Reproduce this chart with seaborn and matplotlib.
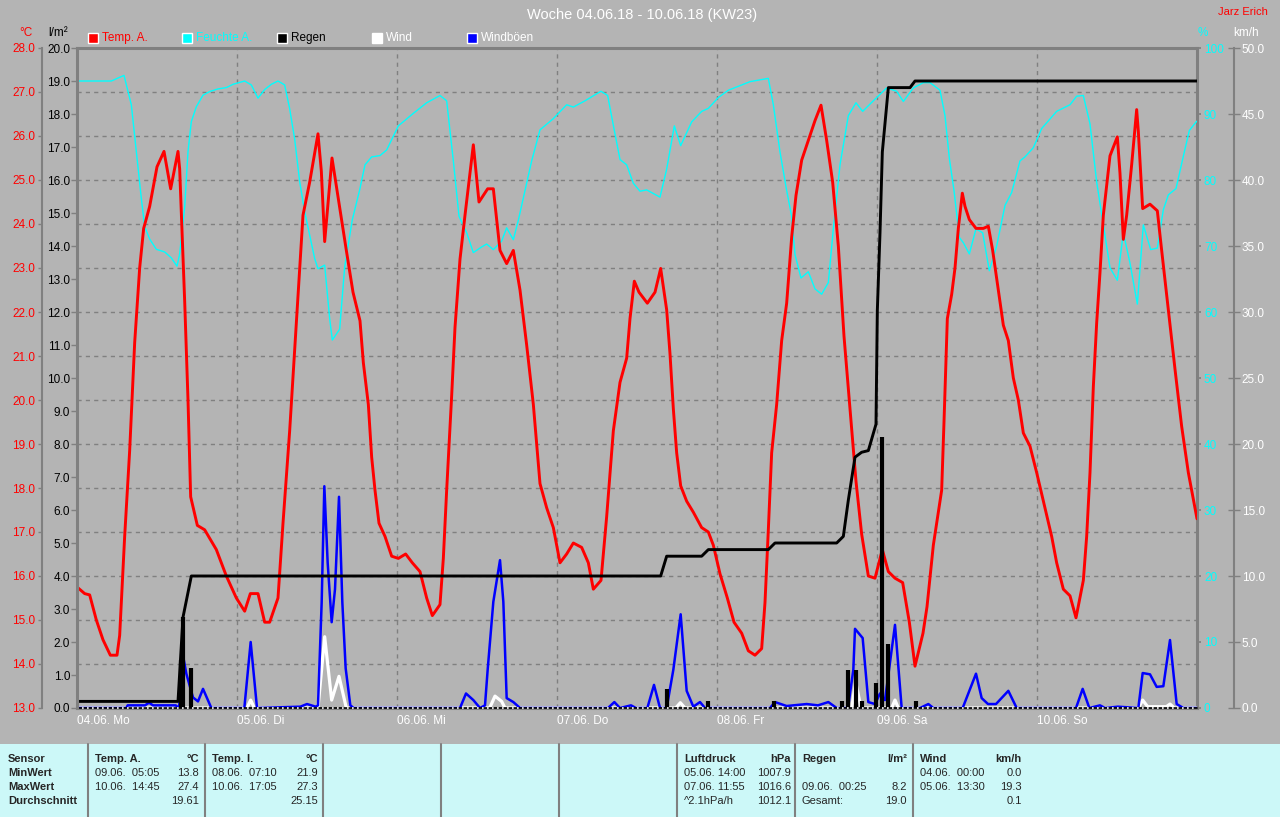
import numpy as np
import pandas as pd
import matplotlib.pyplot as plt
import matplotlib.transforms as mtransforms
from matplotlib.patches import Rectangle
from matplotlib.lines import Line2D
import seaborn as sns

# all x values are hours since 04.06. 00:00
temp_h = [0, 1.15, 1.9, 2.9, 3.9, 5.0, 6.0, 6.4, 7.15, 7.9, 8.65, 9.4, 10.0, 10.9, 12.0, 13.05,
          14.05, 15.15, 15.4, 16.15, 16.65, 17.05, 18.05, 19.15, 20.9, 22.4, 23.9, 25.15, 26.0,
          27.15, 28.15, 28.9, 30.15, 30.9, 31.9, 32.9, 33.9, 34.9, 36.15, 36.65, 37.15, 38.25,
          40.4, 41.4, 42.45, 42.95, 43.7, 44.2, 44.7, 45.3, 46.2, 47.2, 48.2, 49.3, 50.3, 51.45,
          52.45, 53.3, 54.45, 54.95, 55.45, 56.2, 56.7, 57.45, 58.2, 59.45, 60.3, 61.6, 62.45,
          63.45, 64.45, 65.45, 66.45, 67.45, 68.45, 69.45, 70.45, 71.45, 72.45, 73.45, 74.45,
          75.7, 76.7, 77.45, 78.6, 79.45, 80.45, 81.45, 82.45, 82.95, 83.6, 84.3, 85.55, 86.7,
          87.55, 88.45, 88.95, 89.45, 89.95, 90.55, 91.45, 92.45, 93.7, 94.7, 95.45, 96.45,
          97.55, 98.55, 99.7, 100.7, 101.7, 102.7, 103.2, 103.7, 104.2, 104.95, 105.7, 106.45,
          107.2, 107.85, 108.7, 109.7, 110.7, 111.6, 112.45, 113.35, 114.2, 115.05, 115.95,
          116.85, 117.7, 118.7, 119.7, 120.8, 121.7, 122.7, 123.85, 124.85, 125.7, 126.9, 127.5,
          128.45, 129.7, 130.05, 130.55, 131.2, 131.7, 132.2, 132.8, 133.2, 133.85, 134.85,
          135.95, 136.7, 137.35, 138.2, 138.95, 139.7, 140.45, 141.2, 141.95, 142.95, 143.95,
          145.2, 146.2, 146.95, 147.95, 148.95, 149.85, 150.95, 151.45, 151.95, 152.45, 152.95,
          153.45, 153.95, 154.95, 156.05, 156.45, 156.95, 157.45, 158.2, 158.95, 159.2, 159.85,
          160.95, 162.05, 162.7, 163.7, 164.7, 165.7, 166.7, 168.0]
temp_c = [15.75, 15.6, 15.57, 15.0, 14.55, 14.2, 14.2, 14.65, 16.9, 18.85, 21.3, 23.0, 23.9, 24.4,
          25.3, 25.65, 24.8, 25.65, 25.25, 22.25, 20.0, 17.8, 17.15, 17.05, 16.6, 16.0, 15.5,
          15.2, 15.6, 15.6, 14.95, 14.95, 15.5, 17.2, 19.3, 21.75, 24.2, 24.95, 26.05, 25.2,
          23.6, 25.5, 23.4, 22.45, 21.8, 20.85, 19.9, 18.7, 17.95, 17.2, 16.9, 16.45, 16.4, 16.5,
          16.3, 16.1, 15.5, 15.1, 15.35, 16.4, 17.95, 20.1, 21.65, 23.2, 24.2, 25.8, 24.5, 24.8,
          24.8, 23.4, 23.1, 23.4, 22.5, 21.25, 19.9, 18.1, 17.55, 17.1, 16.3, 16.5, 16.75, 16.65,
          16.3, 15.7, 15.9, 17.35, 19.3, 20.4, 20.95, 21.85, 22.7, 22.45, 22.2, 22.45, 22.99,
          22.05, 21.05, 19.8, 18.8, 18.05, 17.7, 17.45, 17.1, 17.0, 16.7, 16.05, 15.5, 14.95,
          14.7, 14.3, 14.2, 14.35, 15.4, 17.05, 18.8, 19.9, 21.35, 22.2, 23.7, 24.65, 25.45,
          25.9, 26.35, 26.7, 25.9, 24.95, 23.5, 21.45, 19.8, 18.15, 16.95, 16.0, 15.95, 16.6,
          16.1, 15.95, 15.85, 14.95, 13.95, 14.7, 15.3, 16.7, 17.95, 19.5, 21.85, 22.4, 23.0,
          23.9, 24.7, 24.4, 24.1, 23.9, 23.9, 23.95, 23.4, 22.5, 21.7, 21.35, 20.5, 20.0, 19.25,
          18.95, 18.35, 17.55, 16.9, 16.3, 15.7, 15.55, 15.05, 15.9, 16.9, 18.35, 20.3, 21.75,
          22.9, 24.2, 25.55, 25.98, 25.15, 23.65, 24.2, 25.35, 26.6, 26.1, 24.35, 24.45, 24.3,
          23.4, 22.05, 20.7, 19.4, 18.35, 17.3]

hum_h = [0, 5.15, 7.05, 8.15, 8.9, 9.65, 10.15, 10.9, 11.9, 13.15, 14.15, 15.0, 15.4, 16.15,
         16.65, 17.15, 17.9, 18.9, 19.9, 21.15, 22.4, 23.4, 25.15, 26.15, 27.15, 28.15, 29.15,
         30.15, 31.15, 31.9, 32.65, 33.4, 34.15, 34.9, 35.65, 36.15, 37.15, 37.9, 38.3, 39.4,
         40.15, 41.3, 42.4, 43.2, 44.2, 45.45, 46.45, 48.2, 50.45, 52.45, 54.45, 55.45, 56.45,
         57.3, 58.45, 59.45, 60.45, 61.45, 62.45, 63.7, 64.45, 65.45, 66.2, 67.2, 68.2, 69.45,
         71.45, 73.45, 74.45, 76.2, 78.6, 79.6, 80.6, 81.45, 82.45, 83.45, 84.45, 85.45, 87.45,
         88.45, 89.6, 90.55, 92.2, 93.7, 94.7, 96.2, 97.7, 99.45, 100.95, 103.7, 104.45, 105.45,
         106.45, 107.2, 107.7, 108.6, 109.7, 110.7, 111.7, 112.7, 113.45, 114.45, 115.7, 116.85,
         117.85, 119.45, 121.45, 122.95, 123.95, 125.45, 126.95, 127.95, 129.45, 130.2, 130.85,
         131.55, 132.35, 132.95, 133.85, 134.85, 135.85, 136.85, 137.95, 139.2, 140.2, 141.45,
         142.2, 143.45, 144.7, 146.95, 148.95, 149.95, 150.95, 151.95, 152.95, 153.95, 154.95,
         156.05, 156.95, 157.95, 159.05, 159.95, 161.05, 162.05, 162.95, 163.7, 164.85, 165.95,
         166.85, 167.95]
hum_pct = [95.0, 95.0, 95.85, 91.4, 84.3, 77.2, 72.95, 71.05, 69.5, 69.1, 68.2, 66.95, 68.8,
           75.9, 84.3, 88.85, 91.1, 92.85, 93.4, 93.8, 94.0, 94.5, 95.0, 94.4, 92.4, 93.7, 94.5,
           95.0, 94.4, 90.8, 86.2, 79.75, 75.2, 71.65, 68.1, 66.55, 67.1, 59.0, 55.75, 57.4,
           66.8, 74.0, 78.5, 82.3, 83.5, 83.7, 84.55, 88.2, 90.1, 91.7, 92.8, 92.0, 82.9, 74.5,
           72.0, 69.0, 69.7, 70.3, 69.45, 70.75, 72.75, 70.95, 73.9, 78.4, 82.9, 87.6, 89.3,
           91.4, 91.05, 92.0, 93.45, 92.8, 87.5, 83.1, 82.3, 79.5, 78.3, 78.5, 77.4, 81.65, 88.2,
           85.2, 88.8, 90.4, 90.85, 92.5, 93.6, 94.3, 94.9, 95.4, 91.4, 84.25, 78.4, 74.5, 68.7,
           65.15, 66.1, 63.5, 62.7, 64.45, 72.6, 82.3, 89.75, 91.7, 90.4, 92.0, 93.95, 93.45,
           91.9, 93.95, 94.75, 94.75, 93.6, 89.75, 83.3, 78.4, 71.3, 70.5, 68.8, 72.6, 72.0,
           66.25, 70.0, 76.15, 78.1, 82.9, 83.5, 84.9, 87.8, 90.4, 91.4, 92.7, 92.8, 88.5, 79.7,
           73.2, 66.7, 64.8, 72.0, 67.4, 61.2, 73.2, 69.45, 69.7, 75.5, 77.75, 78.7, 83.6, 87.5,
           88.9]

rain_sum_h = [0, 15.15, 15.9, 17.15, 87.55, 88.45, 93.7, 94.7, 103.7, 104.7, 113.95, 114.95,
              115.7, 116.7, 117.7, 118.7, 119.85, 120.05, 120.45, 120.8, 121.7, 124.95, 125.7, 168.0]
rain_sum = [0.2, 0.2, 2.75, 4.0, 4.0, 4.6, 4.6, 4.8, 4.8, 5.0, 5.0, 5.2,
            6.3, 7.6, 7.75, 7.8, 8.6, 12.05, 14.4, 16.85, 18.8, 18.8, 19.0, 19.0]

rain_bar_h = [15.55, 15.9, 17.15, 88.55, 94.6, 104.6, 114.8, 115.7, 116.8, 117.8, 119.8,
              120.8, 121.7, 125.8]
rain_bar = [1.45, 2.75, 1.2, 0.58, 0.2, 0.2, 0.2, 1.15, 1.15, 0.2, 0.75, 8.2, 1.95, 0.2]

gust_h = [0, 7.4, 7.6, 10.2, 10.8, 11.4, 14.8, 15.3, 16.0, 16.4, 17.4, 18.15, 18.9, 20.15,
          25.1, 26.05, 27.0, 33.5, 34.5, 35.8, 36.15, 36.7, 37.1, 37.6, 38.2, 38.7, 39.3, 39.8,
          40.3, 41.0, 41.5, 57.45, 58.35, 59.45, 60.45, 61.2, 61.6, 62.45, 63.45, 63.95, 64.45,
          65.45, 66.45, 79.65, 80.6, 81.45, 83.1, 83.85, 85.55, 86.55, 87.45, 88.45, 89.45,
          90.55, 91.45, 92.45, 93.45, 94.2, 103.95, 104.7, 106.45, 109.45, 111.15, 112.7, 113.95,
          115.65, 116.45, 116.7, 117.85, 118.7, 119.7, 120.45, 121.2, 122.7, 123.7, 126.45, 127.7,
          128.45, 132.85, 134.85, 135.7, 136.65, 137.85, 139.7, 140.95, 149.85, 150.85, 151.85,
          153.45, 154.2, 156.15, 159.2, 159.85, 160.95, 161.95, 162.95, 163.95, 164.95, 165.95,
          168.0]
gust = [0, 0, 0.2, 0.2, 0.4, 0.2, 0.2, 0, 3.7, 2.6, 0.8, 0.5, 1.45, 0,
        0, 5.0, 0, 0.1, 0.3, 0.1, 0.2, 8.0, 16.8, 11.0, 6.5, 9.0, 16.0, 8.0,
        3.0, 0.2, 0, 0, 1.1, 0.6, 0, 0.2, 2.9, 8.05, 11.2, 8.05, 0.75,
        0.45, 0, 0, 0.45, 0, 0.2, 0, 0, 1.75, 0, 0, 2.9,
        7.1, 1.3, 0.1, 0.45, 0, 0, 0.45, 0.15, 0.3, 0.2, 0.45, 0,
        0, 2.9, 6.0, 5.3, 0.45, 0.3, 1.1, 0.6, 6.3, 0, 0, 0.3,
        0, 0, 2.6, 0.75, 0.3, 0.3, 1.3, 0, 0, 1.45, 0,
        0.2, 0, 0.1, 0, 2.65, 2.55, 1.6, 1.65, 5.15, 0.3, 0,
        0]

wind_h = [0, 25.5, 26.05, 26.6, 36.15, 37.15, 38.2, 39.3, 40.4, 61.9, 62.7, 63.7, 64.2,
          89.8, 90.5, 91.2, 116.2, 116.8, 117.6, 122.2, 122.7, 123.2, 159.2, 159.85, 160.6,
          163.4, 163.95, 164.6, 168.0]
wind = [0, 0, 0.6, 0, 0, 5.4, 0.6, 2.4, 0, 0, 0.9, 0.5, 0,
        0, 0.4, 0, 0, 2.0, 0, 0, 0.6, 0, 0, 0.6, 0.1,
        0.1, 0.3, 0, 0]

day_ticks = [0, 24, 48, 72, 96, 120, 144]
day_labels = ["04.06. Mo", "05.06. Di", "06.06. Mi", "07.06. Do", "08.06. Fr", "09.06. Sa", "10.06. So"]

BG = "#b4b4b4"
GRID = "#808080"
TABLE = "#ccf8f8"
W, H = 1280, 817
PX = 0.72  # points per pixel at 100 dpi

sns.set_theme(style="white", rc={"axes.facecolor": BG, "figure.facecolor": BG})
plt.rcParams['font.family'] = ['Liberation Sans', 'DejaVu Sans']

fig = plt.figure(figsize=(12.8, 8.17), dpi=100, facecolor=BG)
rect = [77 / W, 1 - 708 / H, 1120 / W, 660 / H]

# base axes: temperature scale, grid and frame
ax = fig.add_axes(rect)
ax.set_facecolor(BG)
ax.set_xlim(0, 168)
ax.set_ylim(13, 28)
ax.set_yticks(np.arange(13, 29, 1))
ax.set_yticklabels([f"{v:.1f}" for v in np.arange(13, 29, 1)])
ax.set_xticks(day_ticks)
ax.set_xticklabels(day_labels, ha="left")
offset = mtransforms.ScaledTranslation(-15 / 100, 0, fig.dpi_scale_trans)
for lab in ax.get_xticklabels():
    lab.set_transform(lab.get_transform() + offset)
ax.set_axisbelow(True)
ax.grid(True, color=GRID, ls=(0, (3, 3)), lw=1)
ax.tick_params(axis="x", length=0, pad=5, labelcolor="white", labelsize=8.5)
ax.tick_params(axis="y", direction="out", length=3, width=1, color=GRID, pad=2,
               labelcolor="red", labelsize=8.5)
for s in ["top", "bottom", "right"]:
    ax.spines[s].set_color(GRID)
    ax.spines[s].set_linewidth(2.2)
ax.spines["left"].set_position(("outward", 35 * PX))
ax.spines["left"].set_color(GRID)
ax.spines["left"].set_linewidth(1.5)

# humidity
ax_h = ax.twinx()
ax_h.set_ylim(0, 100)
ax_h.set_yticks(np.arange(0, 101, 10))
ax_h.tick_params(axis="y", direction="out", length=3, color=GRID, pad=2,
                 labelcolor="#00ffff", labelsize=8.5)
for s in ax_h.spines.values():
    s.set_visible(False)
sns.lineplot(x=hum_h, y=hum_pct, ax=ax_h, color="#00ffff", lw=1, estimator=None, sort=False)

# temperature line (same scale as base axes)
ax_t = ax.twinx()
ax_t.set_ylim(13, 28)
ax_t.yaxis.set_visible(False)
for s in ax_t.spines.values():
    s.set_visible(False)
sns.lineplot(x=temp_h, y=temp_c, ax=ax_t, color="#ff0000", lw=2.1, estimator=None, sort=False)

# wind and gusts
ax_w = ax.twinx()
ax_w.set_ylim(0, 50)
ax_w.set_yticks(np.arange(0, 51, 5))
ax_w.set_yticklabels([f"{v:.1f}" for v in np.arange(0, 51, 5)])
ax_w.tick_params(axis="y", direction="inout", length=9, width=1, color=GRID, pad=1,
                 labelcolor="white", labelsize=8.5)
for s in ax_w.spines.values():
    s.set_visible(False)
ax_w.spines["right"].set_visible(True)
ax_w.spines["right"].set_position(("outward", 37 * PX))
ax_w.spines["right"].set_color(GRID)
ax_w.spines["right"].set_linewidth(1.5)
sns.lineplot(x=wind_h, y=wind, ax=ax_w, color="white", lw=2.3, estimator=None, sort=False)
sns.lineplot(x=gust_h, y=gust, ax=ax_w, color="#0000ff", lw=1.8, estimator=None, sort=False)

# rain: cumulative line + interval bars, axis on the inner left
ax_r = ax.twinx()
ax_r.set_ylim(0, 20)
ax_r.yaxis.tick_left()
ax_r.set_yticks(np.arange(0, 21, 1))
ax_r.set_yticklabels([f"{v:.1f}" for v in np.arange(0, 21, 1)])
ax_r.tick_params(axis="y", direction="out", length=4, width=1, color=GRID, pad=1,
                 labelcolor="black", labelsize=8.5)
for s in ax_r.spines.values():
    s.set_visible(False)
ax_r.spines["left"].set_visible(True)
ax_r.spines["left"].set_color(GRID)
ax_r.spines["left"].set_linewidth(2.2)
ax_r.vlines(rain_bar_h, 0, rain_bar, color="black", lw=3)
sns.lineplot(x=rain_sum_h, y=rain_sum, ax=ax_r, color="black", lw=2.1, estimator=None, sort=False)
ax_r.axhline(0, color="black", lw=1.2, clip_on=False)
ax_r.axhline(0, color="white", lw=1.2, ls=(0, (1, 2)), clip_on=False)

for a in (ax, ax_h, ax_t, ax_w, ax_r):
    a.set_xlabel("")
    a.set_ylabel("")
ax.set_xlim(0, 168)


def fx(x):
    return x / W


def fy(y):
    return 1 - y / H


# title, author, units
fig.text(fx(642), fy(15), "Woche 04.06.18 - 10.06.18 (KW23)", color="white", fontsize=10.5,
         ha="center", va="center")
fig.text(fx(1268), fy(12), "Jarz Erich", color="red", fontsize=8, ha="right", va="center")
fig.text(fx(26), fy(33), "°C", color="red", fontsize=8.5, ha="center", va="center")
fig.text(fx(58), fy(33), "l/m²", color="black", fontsize=8.5, ha="center", va="center")
fig.text(fx(1203), fy(33), "%", color="#00ffff", fontsize=8.5, ha="center", va="center")
fig.text(fx(1246), fy(33), "km/h", color="white", fontsize=8.5, ha="center", va="center")

# legend
legend_items = [("Temp. A.", "#ff0000", "#ff0000", 88), ("Feuchte A.", "#00ffff", "#00ffff", 182),
                ("Regen", "black", "black", 277), ("Wind", "white", "white", 372),
                ("Windböen", "#0000ff", "white", 467)]
for name, col, tcol, x0 in legend_items:
    fig.add_artist(Rectangle((fx(x0), fy(43)), 10 / W, 10 / H, transform=fig.transFigure,
                             facecolor=col, edgecolor="white", lw=1))
    fig.text(fx(x0 + 14), fy(38), name, color=tcol, fontsize=8.5, ha="left", va="center")

# bottom table
fig.add_artist(Rectangle((0, 0), 1, 73 / H, transform=fig.transFigure, facecolor=TABLE,
                         edgecolor="none"))
for xl in [88, 205, 323, 441, 559, 677, 795, 913]:
    fig.add_artist(Line2D([fx(xl), fx(xl)], [0, 73 / H], transform=fig.transFigure,
                          color=GRID, lw=1.5))

rows_y = [759, 773, 787, 801]
row_names = ["Sensor", "MinWert", "MaxWert", "Durchschnitt"]
for yy, nm in zip(rows_y, row_names):
    fig.text(fx(8), fy(yy), nm, fontsize=8, fontweight="bold", ha="left", va="center")

table_cols = [
    (95, 199, "Temp. A.", "°C", [("09.06.  05:05", "13.8"), ("10.06.  14:45", "27.4"), ("", "19.61")]),
    (212, 318, "Temp. I.", "°C", [("08.06.  07:10", "21.9"), ("10.06.  17:05", "27.3"), ("", "25.15")]),
    (684, 791, "Luftdruck", "hPa", [("05.06. 14:00", "1007.9"), ("07.06. 11:55", "1016.6"),
                                     ("^2.1hPa/h", "1012.1")]),
    (802, 907, "Regen", "l/m²", [("", ""), ("09.06.  00:25", "8.2"), ("Gesamt:", "19.0")]),
    (920, 1022, "Wind", "km/h", [("04.06.  00:00", "0.0"), ("05.06.  13:30", "19.3"), ("", "0.1")]),
]
for xl, xr, head, unit, vals in table_cols:
    fig.text(fx(xl), fy(rows_y[0]), head, fontsize=8, fontweight="bold", ha="left", va="center")
    fig.text(fx(xr), fy(rows_y[0]), unit, fontsize=8, fontweight="bold", ha="right", va="center")
    for yy, (left, right) in zip(rows_y[1:], vals):
        fig.text(fx(xl), fy(yy), left, fontsize=8, ha="left", va="center")
        fig.text(fx(xr), fy(yy), right, fontsize=8, ha="right", va="center")

fig.savefig("out.png", dpi=100, facecolor=BG)
